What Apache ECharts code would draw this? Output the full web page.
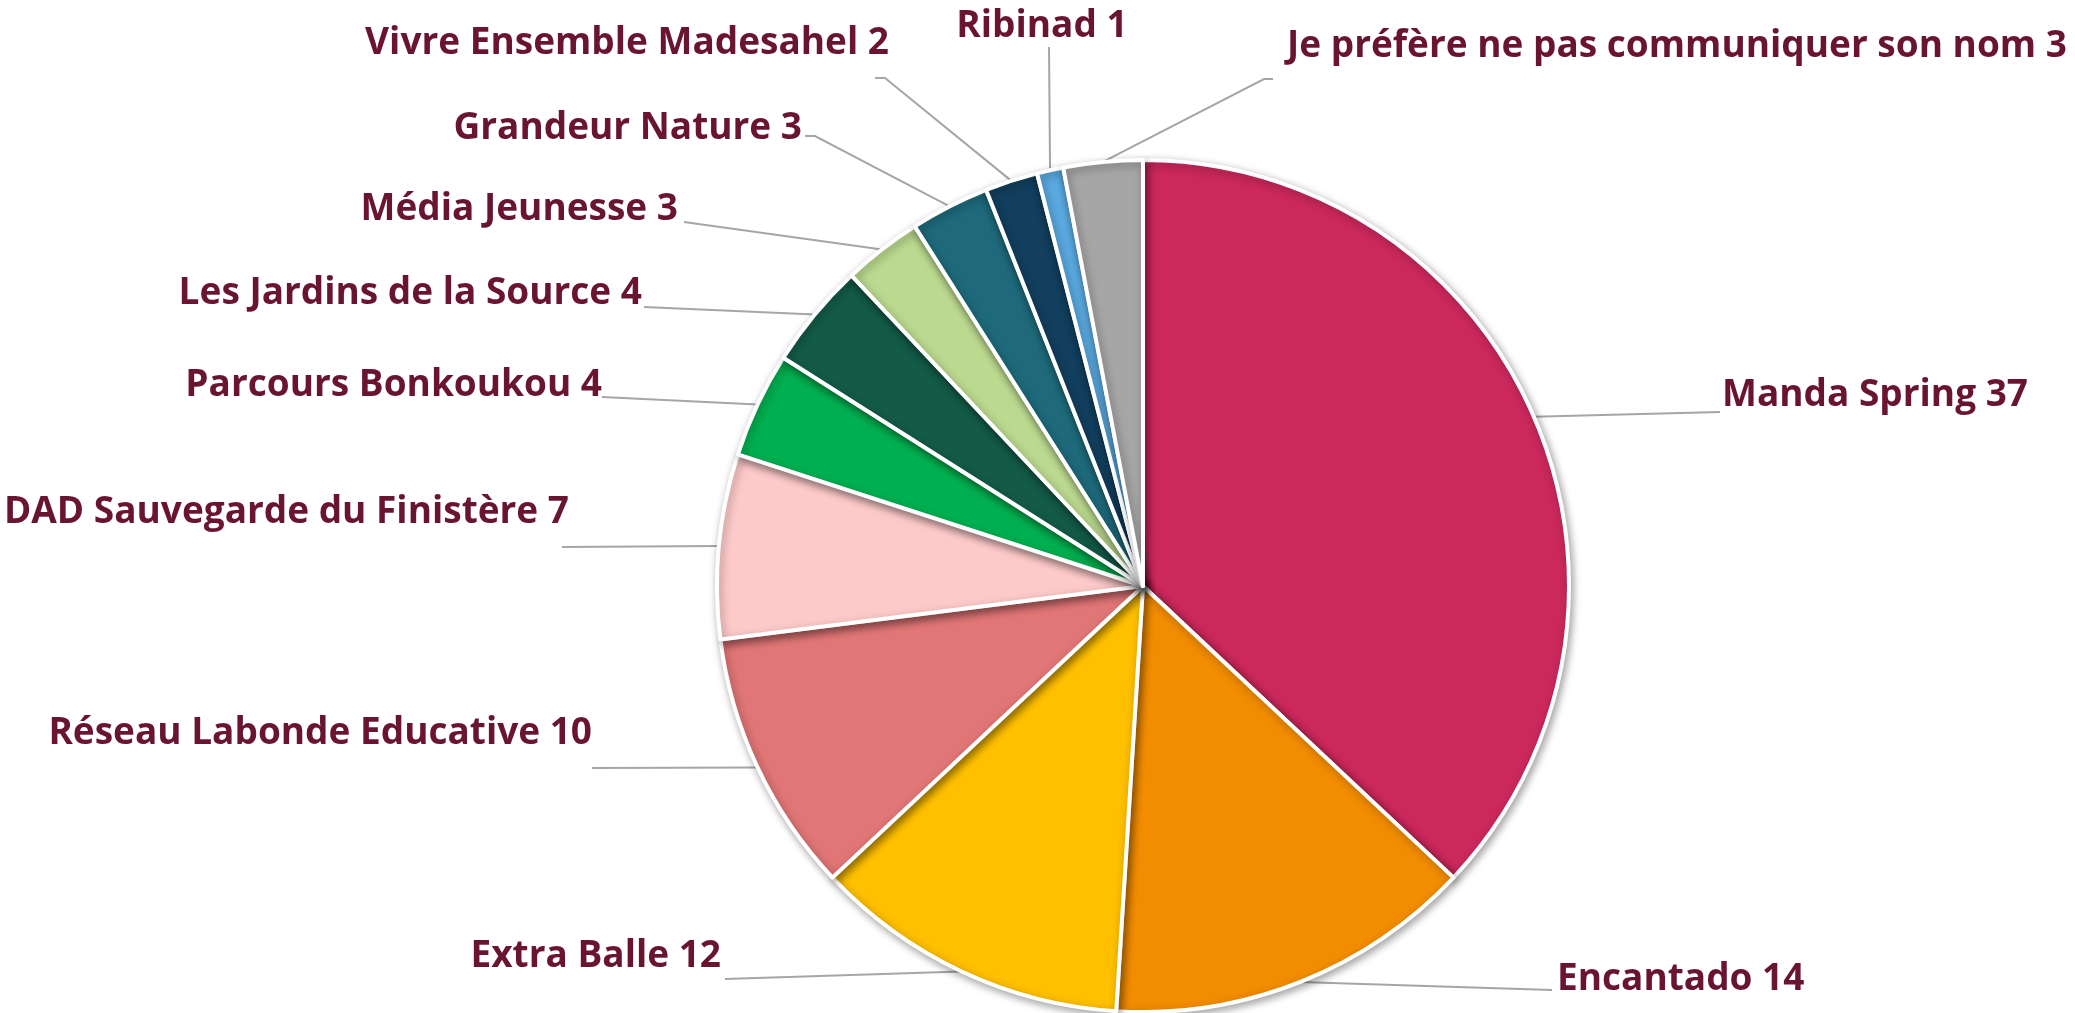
<!DOCTYPE html>
<html>
<head>
<meta charset="utf-8">
<script src="https://cdn.jsdelivr.net/npm/echarts@6/dist/echarts.min.js"></script>
<style>
  html, body { margin: 0; padding: 0; background: #fff; }
  #chart { width: 2075px; height: 1013px; }
</style>
</head>
<body>
<div id="chart"></div>
<script>
const names = [
  'Manda Spring', 'Encantado', 'Extra Balle', 'Réseau Labonde Educative',
  'DAD Sauvegarde du Finistère', 'Parcours Bonkoukou', 'Les Jardins de la Source',
  'Média Jeunesse', 'Grandeur Nature', 'Vivre Ensemble Madesahel', 'Ribinad',
  'Je préfère ne pas communiquer son nom'
]
const values = [37, 14, 12, 10, 7, 4, 4, 3, 3, 2, 1, 3]
const colors = [
  '#CB285C', '#F28C00', '#FFC000', '#E17676', '#FDCACA', '#00B050',
  '#135B47', '#BBD98F', '#1E6A7B', '#123F5E', '#5AA9E0', '#A6A6A6'
]

// where each label sits, and the rest of its leader line after the pie edge
const labelPos = [
  { x: 1722, y: 395, align: 'left', line: [[1720, 412], [1720, 412]] },
  { x: 1557, y: 979, align: 'left', line: [[1552, 990], [1552, 990]] },
  { x: 721, y: 956, align: 'right', line: [[725, 979], [725, 979]] },
  { x: 592, y: 733, align: 'right', line: [[592, 768], [592, 768]] },
  { x: 569, y: 512, align: 'right', line: [[562, 547], [562, 547]] },
  { x: 602, y: 385, align: 'right', line: [[602, 397], [602, 397]] },
  { x: 642, y: 293, align: 'right', line: [[644, 307], [644, 307]] },
  { x: 678, y: 209, align: 'right', line: [[684, 222], [684, 222]] },
  { x: 802, y: 128, align: 'right', line: [[815, 136], [805, 136]] },
  { x: 889, y: 43, align: 'right', line: [[885, 78], [875, 78]] },
  { x: 1042, y: 26, align: 'center', line: [[1049, 47], [1049, 47]] },
  { x: 1287, y: 46, align: 'left', line: [[1264, 79], [1273, 79]] }
]

let data = []
names.forEach((n, i) => {
  data.push({ name: n, value: values[i], itemStyle: { color: colors[i] } })
})

const myChart = echarts.init(document.getElementById('chart'), null, { renderer: 'canvas' })
myChart.setOption({
  animation: false,
  series: [{
    type: 'pie',
    center: [1143, 586],
    radius: 426,
    startAngle: 90,
    clockwise: true,
    avoidLabelOverlap: false,
    data: data,
    itemStyle: {
      borderColor: '#fff',
      borderWidth: 4,
      shadowBlur: 8,
      shadowColor: 'rgba(0,0,0,0.35)',
      shadowOffsetX: 2,
      shadowOffsetY: 3
    },
    label: {
      show: true,
      formatter: '{b} {c}',
      fontFamily: 'Open Sans',
      fontWeight: 'bold',
      fontSize: 37,
      color: '#6A1530',
      overflow: 'none'
    },
    labelLine: {
      show: true,
      lineStyle: { color: '#A6A6A6', width: 2 }
    },
    labelLayout: function (params) {
      const p = labelPos[params.dataIndex]
      const start = params.labelLinePoints[0]
      return {
        x: p.x,
        y: p.y,
        align: p.align,
        verticalAlign: 'middle',
        labelLinePoints: [start].concat(p.line)
      }
    }
  }]
})
</script>
</body>
</html>
